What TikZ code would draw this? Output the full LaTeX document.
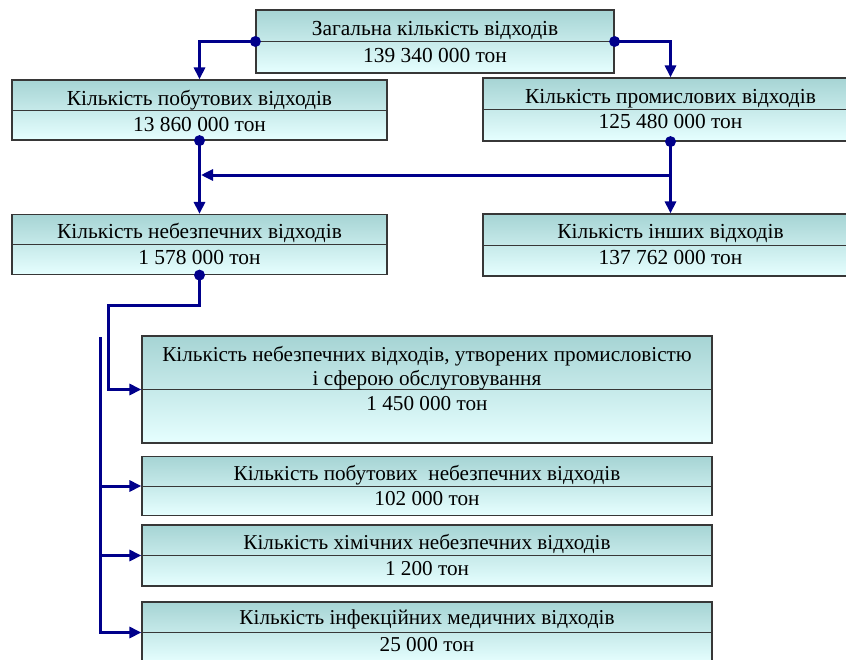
\documentclass[tikz,border=0pt]{standalone}
\usepackage{fontspec}
\setmainfont{Liberation Serif}
\usetikzlibrary{arrows.meta}
\definecolor{conncol}{RGB}{0,0,139}
\definecolor{boxtop}{RGB}{166,212,212}
\definecolor{boxbot}{RGB}{230,255,255}
\definecolor{boxline}{RGB}{55,55,55}
\tikzset{
  box/.style={draw=boxline, line width=1.2pt, top color=boxtop, bottom color=boxbot, inner sep=0pt},
  divl/.style={draw=boxline, line width=1pt},
  lblU/.style={inner sep=0pt, anchor=base, font=\fontsize{21.4}{24}\selectfont},
  lblL/.style={inner sep=0pt, anchor=base, font=\fontsize{21.2}{24}\selectfont},
  conn/.style={draw=conncol, line width=3pt},
  connA/.style={conn, -{Triangle[length=12pt,width=11pt]}},
  dotc/.style={fill=conncol}
}
\begin{document}
\begin{tikzpicture}[x=1pt,y=-1pt]
\useasboundingbox (0,0) rectangle (846,659);
\clip (0,0) rectangle (846,659);
% boxes
\node[box, minimum width=358pt, minimum height=63pt] (tot) at (435,41.5) {};
\node[box, minimum width=375pt, minimum height=60pt] (hh) at (199.5,110) {};
\node[box, minimum width=375pt, minimum height=63pt] (ind) at (670.5,109.5) {};
\node[box, minimum width=375pt, minimum height=60pt] (haz) at (199.5,244.5) {};
\node[box, minimum width=375pt, minimum height=62pt] (oth) at (670.5,245) {};
\node[box, minimum width=570pt, minimum height=107pt] (big) at (427,389.5) {};
\node[box, minimum width=570pt, minimum height=59pt] (bx3) at (427,486) {};
\node[box, minimum width=570pt, minimum height=61pt] (bx4) at (427,555.5) {};
\node[box, minimum width=570pt, minimum height=61pt] (bx5) at (427,632.5) {};
% dividers
\foreach \b in {tot,hh,ind,haz,oth,big,bx3,bx4,bx5} \draw[divl] (\b.west) -- (\b.east);
% labels
\node[lblU] (totA) at (435,35) {Загальна кількість відходів};
\node[lblU] (totB) at (435,62) {139 340 000 тон};
\node[lblU] (hhA) at (199.5,105) {Кількість побутових відходів};
\node[lblU] (hhB) at (199.5,131) {13 860 000 тон};
\node[lblU] (indA) at (670.5,103.5) {Кількість промислових відходів};
\node[lblU] (indB) at (670.5,128.5) {125 480 000 тон};
\node[lblU] (hazA) at (199.5,238.5) {Кількість небезпечних відходів};
\node[lblU] (hazB) at (199.5,264) {1 578 000 тон};
\node[lblU] (othA) at (670.5,238.5) {Кількість інших відходів};
\node[lblU] (othB) at (670.5,264) {137 762 000 тон};
\node[lblL] (bigA) at (427,361.5) {Кількість небезпечних відходів, утворених промисловістю};
\node[lblL] (bigB) at (427,385.5) {і сферою обслуговування};
\node[lblL] (bigC) at (427,410) {1 450 000 тон};
\node[lblL] (bx3A) at (427,480.5) {Кількість побутових\ \ небезпечних відходів};
\node[lblL] (bx3B) at (427,505) {102 000 тон};
\node[lblL] (bx4A) at (427,549.5) {Кількість хімічних небезпечних відходів};
\node[lblL] (bx4B) at (427,575) {1 200 тон};
\node[lblL] (bx5A) at (427,624.5) {Кількість інфекційних медичних відходів};
\node[lblL] (bx5B) at (427,651) {25 000 тон};
% connectors
\coordinate (jr) at (670.5,175);
\coordinate (jl) at (201,175);
\coordinate (k1) at (199.5,305);
\coordinate (k2) at (108,305);
\coordinate (bt) at (100,337);
\draw[connA] (tot.west) -| (hh.north);
\draw[connA] (tot.east) -| (ind.north);
\draw[connA] (hh.south) -- (haz.north);
\draw[connA] (ind.south) -- (oth.north);
\draw[connA] (jr) -- (jl);
\draw[connA] (haz.south) -- (k1) -- (k2) |- (big.west);
\draw[connA] (bt) |- (bx5.west);
\draw[connA] (bt |- bx3.west) -- (bx3.west);
\draw[connA] (bt |- bx4.west) -- (bx4.west);
% dots
\fill[dotc] (tot.west) circle (5.5pt);
\fill[dotc] (tot.east) circle (5.5pt);
\fill[dotc] (hh.south) circle (5.5pt);
\fill[dotc] (ind.south) circle (5.5pt);
\fill[dotc] (haz.south) circle (5.5pt);
\end{tikzpicture}
\end{document}
